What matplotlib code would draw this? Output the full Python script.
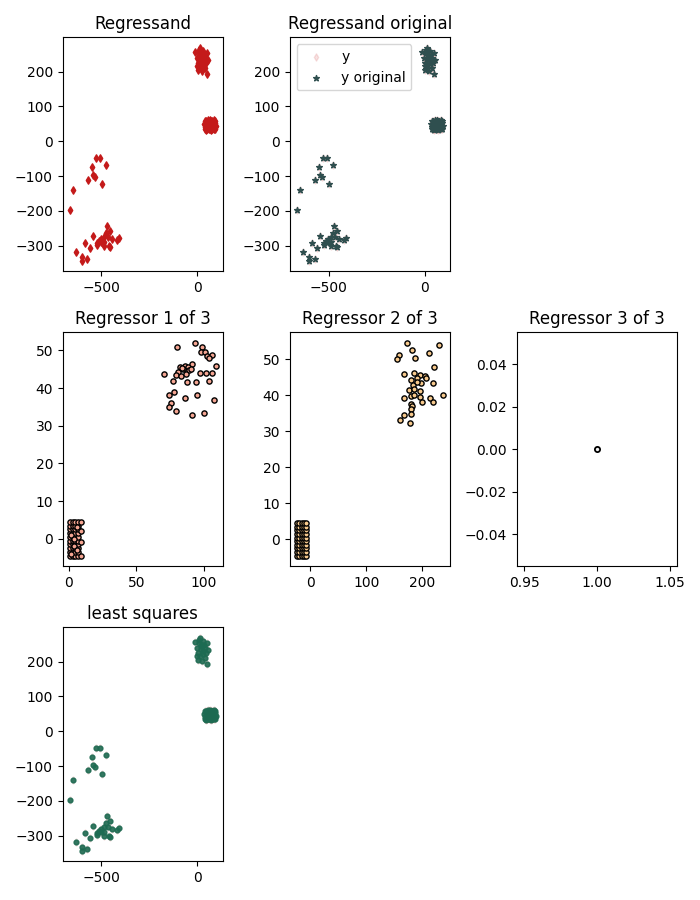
import matplotlib

matplotlib.use("Agg")
import matplotlib.pyplot as plt
import numpy as np

# regressand: three groups of points (x, y)
upper_x = [-12, 14, 31, 49, -3, 19, 40, 5, 31, 54, 2, 23, 40, 49, 14, 23, 9, 30, 0, 20, 45, 8, 36]
upper_y = [256, 268, 259, 254, 240, 235, 240, 225, 221, 233, 206, 201, 211, 192, 216, 249, 254, 230, 215, 245, 225, 262, 248]

dense_x = [38, 42, 47, 52, 57, 62, 67, 72, 77, 82, 87, 92,
           40, 45, 50, 55, 60, 65, 70, 75, 80, 85, 90, 94,
           36, 44, 49, 53, 58, 63, 68, 73, 78, 83, 88, 93,
           39, 46, 51, 56, 61, 66, 71, 76, 81, 86, 91,
           43, 54, 64, 74, 84]
dense_y = [34, 36, 33, 35, 37, 34, 36, 33, 35, 38, 34, 36,
           42, 44, 40, 43, 41, 45, 42, 44, 40, 43, 41, 45,
           50, 48, 52, 49, 51, 47, 50, 53, 48, 51, 49, 52,
           57, 59, 56, 60, 58, 61, 57, 59, 56, 60, 58,
           39, 46, 55, 38, 54]

lower_x = [-528, -507, -549, -476, -542, -532, -570, -497, -647, -664, -472, -455, -479,
           -545, -486, -410, -444, -514, -525, -584, -500, -486, -560, -486, -458, -633,
           -601, -601, -573, -525, -467, -460, -420, -505]
lower_y = [-47, -49, -74, -68, -97, -104, -112, -123, -140, -198, -243, -259, -265,
           -271, -276, -278, -281, -286, -293, -293, -290, -290, -307, -300, -303, -319,
           -333, -343, -339, -298, -276, -302, -283, -280]

# regressor 1 of 3
r1_dense_x = [1, 1, 1, 1, 1, 1, 1, 1, 1, 1, 3, 3, 3, 3, 3, 3, 3, 3, 3, 3,
              5, 5, 5, 5, 5, 5, 5, 5, 5, 5, 7, 7, 7, 7, 7, 7, 7, 7, 7, 7,
              2, 4, 6, 9, 9, 9, 9, 2, 4, 6]
r1_dense_y = [-4.5, -3.5, -2.5, -1.5, -0.5, 0.5, 1.5, 2.5, 3.5, 4.5,
              -4.5, -3.5, -2.5, -1.5, -0.5, 0.5, 1.5, 2.5, 3.5, 4.5,
              -4.5, -3.5, -2.5, -1.5, -0.5, 0.5, 1.5, 2.5, 3.5, 4.5,
              -4.5, -3.5, -2.5, -1.5, -0.5, 0.5, 1.5, 2.5, 3.5, 4.5,
              -4, -2, 3, -4.5, -1, 2, 4.5, 1, 0, -3]
r1_spread_x = [93, 80, 98.7, 97.5, 100.7, 102.5, 105.8, 104, 108.5, 91, 82, 85.7, 88.2,
               84.5, 89, 80.7, 79, 83.2, 87, 97, 101.5, 105.8, 77, 87.5, 93.8, 104,
               70.7, 77.5, 74.5, 86, 95, 107.5, 75.5, 74.5, 79, 91, 100, 84, 90.7]
r1_spread_y = [52, 51, 50.8, 49.7, 49.5, 48.6, 48.9, 48, 46, 46.3, 45.6, 45.8, 45.6,
               45.1, 44.7, 44.2, 43.5, 43.3, 43.8, 44, 44, 44, 42, 41.7, 41.7, 42,
               43.8, 39, 38.3, 37.4, 38.1, 36.9, 36, 35, 34, 32.8, 33.5, 45.3, 45]

# regressor 2 of 3
r2_dense_x = [-24, -24, -24, -24, -24, -24, -24, -24, -24, -24,
              -20, -20, -20, -20, -20, -20, -20, -20, -20, -20,
              -16, -16, -16, -16, -16, -16, -16, -16, -16, -16,
              -12, -12, -12, -12, -12, -12, -12, -12, -12, -12,
              -8, -8, -8, -8, -8, -8, -8, -8, -8, -8]
r2_dense_y = [-4.5, -3.5, -2.5, -1.5, -0.5, 0.5, 1.5, 2.5, 3.5, 4.5,
              -4.5, -3.5, -2.5, -1.5, -0.5, 0.5, 1.5, 2.5, 3.5, 4.5,
              -4.5, -3.5, -2.5, -1.5, -0.5, 0.5, 1.5, 2.5, 3.5, 4.5,
              -4.5, -3.5, -2.5, -1.5, -0.5, 0.5, 1.5, 2.5, 3.5, 4.5,
              -4.5, -3.5, -2.5, -1.5, -0.5, 0.5, 1.5, 2.5, 3.5, 4.5]
r2_spread_x = [174, 231, 183, 212, 159, 156, 187, 222, 168, 186, 196, 206, 180, 191,
               208, 198, 220, 184, 176, 186, 196, 180, 186, 196, 168, 214, 237, 200,
               219, 180, 182, 181, 167, 160, 179, 180, 191]
r2_spread_y = [54.5, 53.8, 52.6, 51.7, 51.2, 50.1, 50.3, 47.8, 45.8, 46.1, 45.6, 45.4,
               44.2, 44.7, 44.7, 43.3, 43.3, 42.8, 41.4, 41.7, 41.1, 39.8, 40, 39.6,
               39.3, 39.3, 40, 38, 38, 37.7, 37, 36.3, 34.4, 33, 32.4, 34.9, 43.7]

# regressor 3 of 3
r3_x = [1.0]
r3_y = [0.0]

RED = "#c41a1a"
SLATE = "#2f4f4f"
GREEN = "#1d6b52"


def main() -> None:
    x = np.array(upper_x + dense_x + lower_x, dtype=float)
    y = np.array(upper_y + dense_y + lower_y, dtype=float)

    fig, axes = plt.subplots(3, 3, figsize=(7, 9))

    ax = axes[0, 0]
    ax.scatter(x, y, marker="d", s=14, color=RED)
    ax.set_title("Regressand")

    ax = axes[0, 1]
    ax.scatter(x, y, marker="d", s=14, color=RED, alpha=0.12, label="y")
    ax.scatter(x, y, marker="*", s=18, color=SLATE, label="y original")
    ax.set_title("Regressand original")
    ax.legend(loc="upper left")

    ax = axes[1, 0]
    ax.scatter(r1_dense_x + r1_spread_x, r1_dense_y + r1_spread_y, s=14,
               facecolor="#f5a592", edgecolor="black", linewidths=1)
    ax.set_title("Regressor 1 of 3")

    ax = axes[1, 1]
    ax.scatter(r2_dense_x + r2_spread_x, r2_dense_y + r2_spread_y, s=14,
               facecolor="#f7c98c", edgecolor="black", linewidths=1)
    ax.set_title("Regressor 2 of 3")

    ax = axes[1, 2]
    ax.scatter(r3_x, r3_y, s=14, facecolor="#f2f2f2", edgecolor="black", linewidths=1.3)
    ax.set_title("Regressor 3 of 3")

    ax = axes[2, 0]
    ax.scatter(x, y, marker="d", s=14, color=RED, alpha=0.12)
    ax.scatter(x, y, marker="o", s=12, color=GREEN, alpha=0.9)
    ax.set_title("least squares")

    for a in (axes[0, 2], axes[2, 1], axes[2, 2]):
        a.remove()

    fig.tight_layout()
    fig.savefig("out.png", dpi=100)
    plt.close(fig)


if __name__ == "__main__":
    main()
